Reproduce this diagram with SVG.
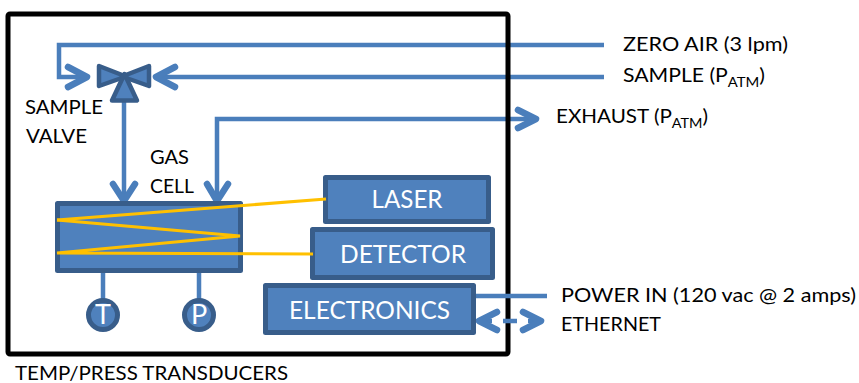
<svg xmlns="http://www.w3.org/2000/svg" width="859" height="383" viewBox="0 0 859 383">
<style>
text{font-family:"Lato","Liberation Sans",sans-serif;font-size:20px;fill:#000}
.w{fill:#fff;font-size:25px;text-anchor:middle}
.n{fill:#4f81bd;stroke:#385d8a;stroke-width:5;stroke-linejoin:round}
.v{fill:#4f81bd;stroke:#385d8a;stroke-width:4.500;stroke-linejoin:round}
.c{fill:none;stroke:#4a7ebb;stroke-width:4.500}
.h{fill:none;stroke:#4a7ebb;stroke-width:6.500;stroke-linecap:round;stroke-linejoin:round}
.y{fill:none;stroke:#ffc000;stroke-width:3}
</style>
<g id="connectors">
<path class="c" d="M604 45H59V77H86"/>
<path class="h" d="M68 67L87 77L68 87"/>
<path class="c" d="M604 77H156"/>
<path class="h" d="M175 67L156 77L175 87"/>
<path class="c" d="M124 100V200"/>
<path class="h" d="M113 184L124 201L135 184"/>
<path class="c" d="M217 200V119H536"/>
<path class="h" d="M207 184L217 201L228 184"/>
<path class="h" d="M518 110L536 119L518 128"/>
<path class="c" d="M103 272V300M199 272V300"/>
</g>
<rect id="enclosure" x="8" y="14" width="500" height="340" fill="none" stroke="#000" stroke-width="5" rx="2"/>
<g id="connectors-electronics">
<path class="c" d="M475 296H547"/>
<path class="c" d="M478 321H543" stroke-dasharray="14 11"/>
<path class="h" d="M497 312L479 321L497 330"/>
<path class="h" d="M523 312L541 321L523 330"/>
</g>
<g id="sample-valve">
<path class="v" d="M99 66L126 76.500L99 86Z"/>
<path class="v" d="M149 66L122 76.500L149 86Z"/>
<path class="v" d="M124.500 74L137 100.500H112Z"/>
</g>
<g id="gas-cell"><rect class="n" x="57.500" y="203.500" width="183" height="67"/></g>
<g id="laser"><rect class="n" x="325.500" y="177.500" width="163" height="44"/><text class="w" x="407" y="208" textLength="71" lengthAdjust="spacingAndGlyphs">LASER</text></g>
<g id="detector"><rect class="n" x="312.500" y="229.500" width="180" height="48"/><text class="w" x="403" y="263" textLength="126" lengthAdjust="spacingAndGlyphs">DETECTOR</text></g>
<g id="electronics"><rect class="n" x="265.500" y="285.500" width="208" height="47"/><text class="w" x="369.500" y="319" textLength="161" lengthAdjust="spacingAndGlyphs">ELECTRONICS</text></g>
<g id="t-transducer"><circle class="n" cx="103" cy="315" r="14.500"/><text class="w" x="103" y="324" style="font-size:27px">T</text></g>
<g id="p-transducer"><circle class="n" cx="199" cy="315" r="14.500"/><text class="w" x="199" y="324" style="font-size:27px">P</text></g>
<g id="beam">
<path class="y" d="M57 220L326 199"/>
<path class="y" d="M57 220L240 236L57 253L313 254"/>
</g>
<g id="labels">
<text x="623" y="51" textLength="165" lengthAdjust="spacingAndGlyphs">ZERO AIR (3 lpm)</text>
<text x="623" y="82" textLength="142" lengthAdjust="spacingAndGlyphs">SAMPLE (P<tspan font-size="14" dy="5">ATM</tspan><tspan dy="-5">)</tspan></text>
<text x="556" y="123" textLength="152" lengthAdjust="spacingAndGlyphs">EXHAUST (P<tspan font-size="14" dy="5">ATM</tspan><tspan dy="-5">)</tspan></text>
<text x="561" y="302" textLength="295" lengthAdjust="spacingAndGlyphs">POWER IN (120 vac @ 2 amps)</text>
<text x="561" y="331" textLength="100" lengthAdjust="spacingAndGlyphs">ETHERNET</text>
<text x="15" y="380" textLength="273" lengthAdjust="spacingAndGlyphs">TEMP/PRESS TRANSDUCERS</text>
<text x="25" y="114" textLength="78" lengthAdjust="spacingAndGlyphs">SAMPLE</text>
<text x="26" y="143" textLength="61" lengthAdjust="spacingAndGlyphs">VALVE</text>
<text x="150" y="164" textLength="39" lengthAdjust="spacingAndGlyphs">GAS</text>
<text x="150" y="193" textLength="44" lengthAdjust="spacingAndGlyphs">CELL</text>
</g>
</svg>
